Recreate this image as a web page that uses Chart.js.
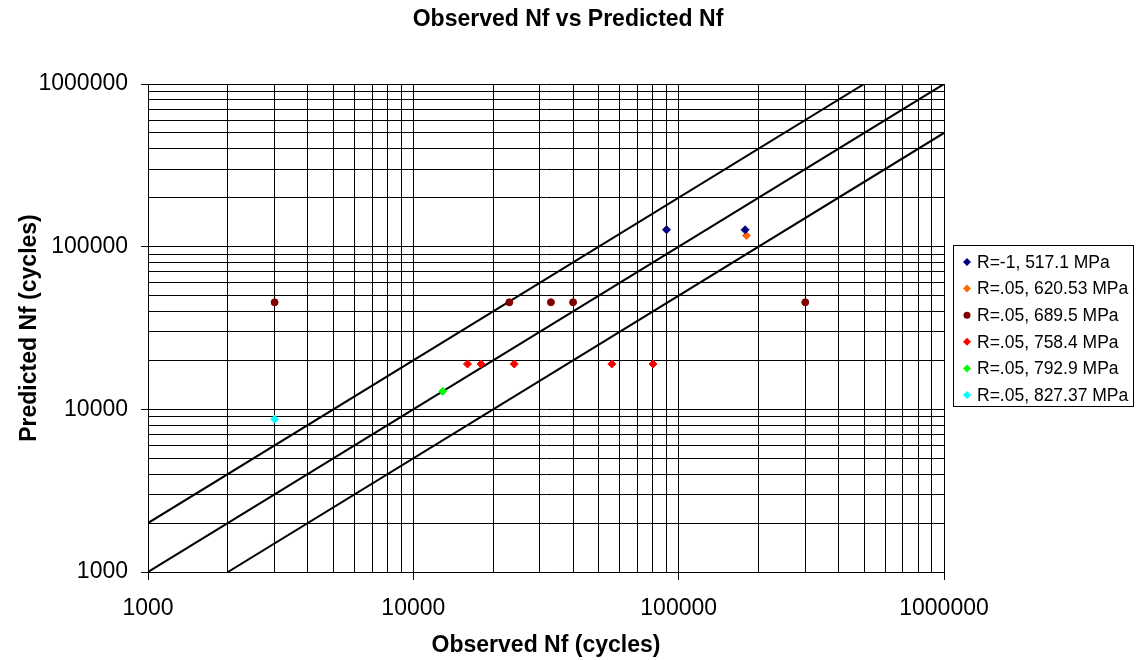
<!DOCTYPE html>
<html>
<head>
<meta charset="utf-8">
<script src="https://cdn.jsdelivr.net/npm/chart.js@4/dist/chart.umd.min.js"></script>
<style>
  html, body { margin: 0; padding: 0; background: #ffffff; }
  #wrap { width: 1136px; height: 660px; }
</style>
</head>
<body>
<div id="wrap"><canvas id="c" width="1136" height="660"></canvas></div>
<script>
// ---- Data ----
const seriesLabels = [
  'R=-1, 517.1 MPa',
  'R=.05, 620.53 MPa',
  'R=.05, 689.5 MPa',
  'R=.05, 758.4 MPa',
  'R=.05, 792.9 MPa',
  'R=.05, 827.37 MPa'
];
const s1X = [90000, 178000];
const s1Y = [127000, 127000];
const s2X = [180000];
const s2Y = [117000];
const s3X = [3000, 23000, 33000, 40000, 300000];
const s3Y = [45500, 45500, 45500, 45500, 45500];
const s4X = [16000, 18000, 24000, 56000, 80000];
const s4Y = [19000, 19000, 19000, 19000, 19000];
const s5X = [12900];
const s5Y = [12900];
const s6X = [3000];
const s6Y = [8700];

// reference lines: factor-of-two band around 1:1
const upperX = [1000, 500000];
const upperY = [2000, 1000000];
const equalX = [1000, 1000000];
const equalY = [1000, 1000000];
const lowerX = [2000, 1000000];
const lowerY = [1000, 500000];

// axis ticks
const majorTicks = [1000, 10000, 100000, 1000000];
const minorMultipliers = [2, 3, 4, 5, 6, 7, 8, 9];

const seriesColors = ['#000080', '#FF6600', '#800000', '#FF0000', '#00FF00', '#00FFFF'];
const seriesStyles = ['rectRot', 'rectRot', 'circle', 'rectRot', 'rectRot', 'rectRot'];

// ---- build ----
function pts(xs, ys) { return xs.map((x, i) => ({ x: x, y: ys[i] })); }
const allTicks = [];
majorTicks.forEach((m, i) => {
  allTicks.push(m);
  if (i < majorTicks.length - 1) minorMultipliers.forEach(k => allTicks.push(m * k));
});

const seriesXs = [s1X, s2X, s3X, s4X, s5X, s6X];
const seriesYs = [s1Y, s2Y, s3Y, s4Y, s5Y, s6Y];
const datasets = seriesLabels.map((lab, i) => ({
  label: lab,
  data: pts(seriesXs[i], seriesYs[i]),
  backgroundColor: seriesColors[i],
  borderColor: seriesColors[i],
  borderWidth: 1,
  pointStyle: seriesStyles[i],
  pointRadius: seriesStyles[i] === 'circle' ? 3.5 : 4,
  pointHoverRadius: 4,
  showLine: false,
  order: 1
}));
[[upperX, upperY], [equalX, equalY], [lowerX, lowerY]].forEach(([xs, ys]) => {
  datasets.push({
    label: '',
    data: pts(xs, ys),
    showLine: true,
    borderColor: '#000000',
    borderWidth: 2,
    pointRadius: 0,
    fill: false,
    order: 2
  });
});

const FONT = '"Liberation Sans", Arial, sans-serif';

function setTicks(scale) {
  scale.ticks = allTicks.map(v => ({ value: v, major: majorTicks.includes(v) }));
}

const legendPlugin = {
  id: 'boxLegend',
  afterDraw(chart) {
    const ctx = chart.ctx;
    const left = 953.5, top = 245.5, w = 180, h = 161;
    ctx.save();
    ctx.fillStyle = '#ffffff';
    ctx.fillRect(left, top, w, h);
    ctx.strokeStyle = '#000000';
    ctx.lineWidth = 1;
    ctx.strokeRect(left, top, w, h);
    ctx.font = '17.5px ' + FONT;
    ctx.textBaseline = 'middle';
    ctx.textAlign = 'left';
    seriesLabels.forEach((lab, i) => {
      const cy = 262 + i * 26.6;
      const cx = 967;
      ctx.fillStyle = seriesColors[i];
      ctx.beginPath();
      if (seriesStyles[i] === 'circle') {
        ctx.arc(cx, cy, 3.5, 0, Math.PI * 2);
      } else {
        ctx.moveTo(cx, cy - 4); ctx.lineTo(cx + 4, cy); ctx.lineTo(cx, cy + 4); ctx.lineTo(cx - 4, cy);
        ctx.closePath();
      }
      ctx.fill();
      ctx.fillStyle = '#000000';
      ctx.fillText(lab, 977, cy + 1);
    });
    ctx.restore();
  }
};

new Chart(document.getElementById('c'), {
  type: 'scatter',
  data: { datasets: datasets },
  options: {
    responsive: false,
    animation: false,
    devicePixelRatio: 1,
    layout: { padding: 0 },
    plugins: {
      legend: { display: false },
      tooltip: { enabled: false },
      title: {
        display: true,
        text: 'Observed Nf vs Predicted Nf',
        color: '#000000',
        font: { family: FONT, size: 23, weight: 'bold' },
        padding: { top: 6, bottom: 50.4 }
      }
    },
    scales: {
      x: {
        type: 'logarithmic',
        position: 'bottom',
        min: 1000,
        max: 1000000,
        afterBuildTicks: setTicks,
        afterFit(scale) { scale.height = 88; scale.paddingLeft = 0; scale.paddingRight = 0; },
        border: { color: '#000000', width: 1 },
        grid: {
          color: '#000000',
          lineWidth: 1,
          tickLength: 8,
          tickColor: (c) => (c.tick && majorTicks.includes(c.tick.value)) ? '#000000' : 'rgba(0,0,0,0)'
        },
        ticks: {
          autoSkip: false,
          maxRotation: 0,
          minRotation: 0,
          padding: 15,
          color: '#000000',
          font: { family: FONT, size: 23 },
          callback: (v) => majorTicks.includes(v) ? String(v) : ''
        },
        title: {
          display: true,
          text: 'Observed Nf (cycles)',
          color: '#000000',
          font: { family: FONT, size: 23, weight: 'bold' },
          padding: { top: 0, bottom: 1 }
        }
      },
      y: {
        type: 'logarithmic',
        position: 'left',
        min: 1000,
        max: 1000000,
        afterBuildTicks: setTicks,
        afterFit(scale) { scale.width = 148; scale.paddingTop = 0; scale.paddingBottom = 0; },
        border: { color: '#000000', width: 1 },
        grid: {
          color: '#000000',
          lineWidth: 1,
          tickLength: 7,
          tickColor: (c) => (c.tick && majorTicks.includes(c.tick.value)) ? '#000000' : 'rgba(0,0,0,0)'
        },
        ticks: {
          autoSkip: false,
          padding: 13,
          color: '#000000',
          font: { family: FONT, size: 23 },
          callback: (v) => majorTicks.includes(v) ? String(v) : ''
        },
        title: {
          display: true,
          text: 'Predicted Nf (cycles)',
          color: '#000000',
          font: { family: FONT, size: 23, weight: 'bold' },
          padding: { top: 16, bottom: 0 }
        }
      },
      legendSpace: {
        type: 'linear',
        position: 'right',
        display: true,
        afterFit(scale) { scale.width = 192; scale.paddingTop = 0; scale.paddingBottom = 0; },
        grid: { display: false, drawOnChartArea: false, drawTicks: false },
        border: { display: false },
        ticks: { display: false },
        title: { display: false }
      }
    }
  },
  plugins: [legendPlugin]
});
</script>
</body>
</html>
